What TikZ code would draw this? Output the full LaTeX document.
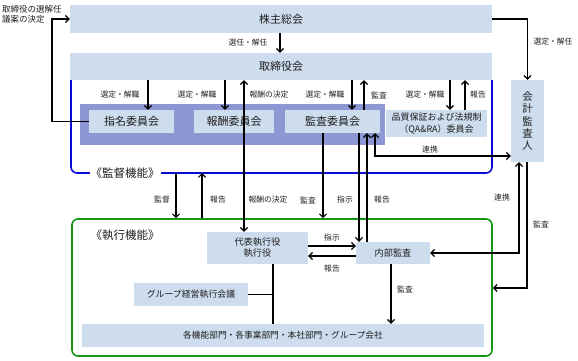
\documentclass[tikz,border=0pt]{standalone}
\usepackage{fontspec}
\setmainfont{Noto Sans CJK JP}
\usetikzlibrary{arrows.meta}
\definecolor{boxbg}{RGB}{206,221,238}
\definecolor{grp}{RGB}{141,151,211}
\definecolor{frameblue}{RGB}{10,10,210}
\definecolor{framegreen}{RGB}{20,150,20}
\definecolor{txt}{RGB}{30,30,30}
\begin{document}
\begin{tikzpicture}[x=1pt,y=-1pt,
  box/.style={fill=boxbg, inner sep=0pt, text=txt, align=center},
  big/.style={font=\fontsize{11}{13}\selectfont},
  mid/.style={font=\fontsize{9.2}{11}\selectfont},
  lbl/.style={font=\fontsize{7.8}{9}\selectfont, text=txt, inner sep=0pt},
  conn/.style={line width=1.2pt, draw=black},
  arr/.style={conn, -{Straight Barb[length=3.5pt,width=7pt]}},
  arrb/.style={conn, {Straight Barb[length=3.5pt,width=7pt]}-{Straight Barb[length=3.5pt,width=7pt]}},
  fr/.style={line width=1.6pt, rounded corners=6pt},
]
\useasboundingbox (0,0) rectangle (578,361);

% supervisory frame (blue, open on top)
\coordinate (supb) at (281,173);
\draw[fr, draw=frameblue] (71,80) -- (71,173) -- (492,173) -- (492,80);
\node[fill=white, inner sep=1pt, text=txt, font=\fontsize{11.5}{13}\selectfont] (suplabel) at (125,173) {《監督機能》};

% execution frame (green)
\node[fr, draw=framegreen, minimum width=420, minimum height=137, inner sep=0pt] (exec) at (282,287.5) {};
\node[text=txt, inner sep=0pt, font=\fontsize{11.5}{13}\selectfont] (execlabel) at (125,235) {《執行機能》};

% committee group
\node[fill=grp, minimum width=305, minimum height=41, inner sep=0pt] (grpbox) at (232.5,124) {};

% boxes
\node[box, big, minimum width=422, minimum height=28] (share) at (281,19) {株主総会};
\node[box, big, minimum width=422, minimum height=27] (board) at (281,66.5) {取締役会};
\node[box, big, minimum width=85, minimum height=23] (nom) at (131.5,121.5) {指名委員会};
\node[box, big, minimum width=80, minimum height=23] (comp) at (234,121.5) {報酬委員会};
\node[box, big, minimum width=95, minimum height=23] (audc) at (332.5,121.5) {監査委員会};
\node[box, font=\fontsize{9}{12}\selectfont, minimum width=101, minimum height=27] (qara) at (436.5,123.5) {品質保証および法規制\\（QA\&RA）委員会};
\node[box, font=\fontsize{10.5}{12.3}\selectfont, minimum width=33, minimum height=82] (auditor) at (527.5,121) {会\\計\\監\\査\\人};
\node[box, mid, minimum width=101, minimum height=32] (ceo) at (257.5,248) {代表執行役\\執行役};
\node[box, font=\fontsize{8.9}{11}\selectfont, minimum width=114, minimum height=23] (group) at (191,294.5) {グループ経営執行会議};
\node[box, mid, minimum width=74, minimum height=22] (ia) at (393,253) {内部監査};
\node[box, font=\fontsize{8.7}{11}\selectfont, minimum width=402, minimum height=23] (depts) at (283,335.5) {各機能部門・各事業部門・本社部門・グループ会社};

% top-left label
\node[lbl, anchor=west, align=left, font=\fontsize{8.5}{10}\selectfont] (nomlabel) at (2,14) {取締役の選解任\\議案の決定};

% connectors
\draw[arr] (share.south -| 280,0) -- (board.north -| 280,0);
\node[lbl] at (248,43) {選任・解任};

\draw[arr] (share.east) -| (auditor.north);
\node[lbl] at (553,42) {選定・解任};

\draw[arr] (nom.west) -- (nom.west -| 52,0) -- (share.west -| 52,0) -- (share.west);

\draw[arr] (board.south -| 148,0) -- (nom.north -| 148,0);
\node[lbl] at (120,95) {選定・解職};
\draw[arr] (board.south -| 225,0) -- (comp.north -| 225,0);
\node[lbl] at (197,95) {選定・解職};
\draw[arrb] (ceo.north -| 244,0) -- (board.south -| 244,0);
\node[lbl] at (269,95) {報酬の決定};
\node[lbl] at (268,200) {報酬の決定};

\draw[arr] (board.south -| 352,0) -- (audc.north -| 352,0);
\node[lbl] at (325,95) {選定・解職};
\draw[arr] (audc.north -| 364,0) -- (board.south -| 364,0);
\node[lbl] at (379,95) {監査};

\draw[arr] (board.south -| 450,0) -- (qara.north -| 450,0);
\node[lbl] at (425,95) {選定・解職};
\draw[arr] (qara.north -| 465,0) -- (board.south -| 465,0);
\node[lbl] at (478,95) {報告};

\draw[arrb] (audc.south -| 375,0) |- (auditor.west |- 0,156);
\node[lbl] at (430,150) {連携};

\draw[arr] (audc.south -| 323,0) -- (exec.north -| 323,0);
\node[lbl] at (308,200) {監査};
\draw[arr] (audc.south -| 359,0) -- (ia.north -| 359,0);
\node[lbl] at (345,200) {指示};
\draw[arr] (ia.north -| 367,0) -- (audc.south -| 367,0);
\node[lbl] at (382,200) {報告};

\draw[arr] (supb -| 176,0) -- (exec.north -| 176,0);
\node[lbl] at (162,200) {監督};
\draw[arr] (exec.north -| 202,0) -- (supb -| 202,0);
\node[lbl] at (218,200) {報告};

\draw[arr] (ceo.east |- 0,246) -- (ia.west |- 0,246);
\node[lbl] at (332,238) {指示};
\draw[arr] (ia.west |- 0,256) -- (ceo.east |- 0,256);
\node[lbl] at (332,269) {報告};

\draw[arrb] (auditor.south -| 519,0) |- (ia.east);
\node[lbl] at (502,198) {連携};
\draw[arr] (auditor.south -| 527,0) |- (exec.east |- 0,288);
\node[lbl] at (541,224) {監査};

\draw[arr] (ia.south -| 391,0) -- (depts.north -| 391,0);
\node[lbl] at (405,289) {監査};

\draw[conn] (ceo.south -| 273,0) -- (depts.north -| 273,0);
\draw[conn] (group.east) -- (group.east -| 273,0);
\end{tikzpicture}
\end{document}
